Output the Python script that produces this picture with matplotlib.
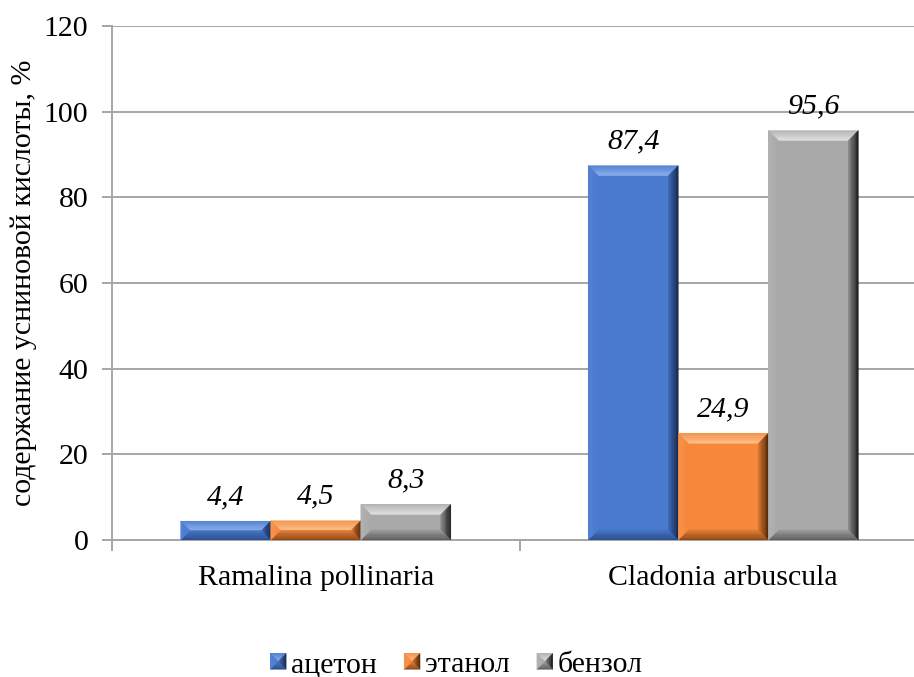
import matplotlib
matplotlib.use("Agg")
import matplotlib.pyplot as plt
from matplotlib.patches import Polygon, Patch
from matplotlib.transforms import IdentityTransform
from matplotlib.legend_handler import HandlerBase
from matplotlib.colors import to_rgb
import numpy as np

categories = ["Ramalina pollinaria", "Cladonia arbuscula"]
series_names = ["ацетон", "этанол", "бензол"]
acetone = [4.4, 87.4]
ethanol = [4.5, 24.9]
benzene = [8.3, 95.6]
labels_acetone = ["4,4", "87,4"]
labels_ethanol = ["4,5", "24,9"]
labels_benzene = ["8,3", "95,6"]
yticks = [0, 20, 40, 60, 80, 100, 120]

colors = ["#4a7acf", "#f5883a", "#a9a9a9"]
# (outer, inner) colours for each bevel face
top_c = [("#5684d2", "#8cb2ee"), ("#f6964f", "#fcc08c"), ("#b5b5b5", "#e2e2e2")]
right_c = [("#152648", "#3f6ab6"), ("#4a2408", "#d8752e"), ("#151515", "#8a8a8a")]
bottom_c = [("#2b4c8c", "#4574c4"), ("#8a4514", "#e07e36"), ("#5a5a5a", "#9a9a9a")]
left_c = [("#5583d3", "#4a7acf"), ("#f79550", "#f5883a"), ("#b4b4b4", "#a9a9a9")]

plt.rcParams['font.family'] = ['Liberation Serif', 'DejaVu Serif']
FS = 21.5

fig = plt.figure(figsize=(9.14, 6.77), dpi=100)
W, H = 914, 677
L, R, T, B = 112, 927, 26, 540
ax = fig.add_axes([L / W, 1 - B / H, (R - L) / W, (B - T) / H])
ax.set_xlim(0, 2)
ax.set_ylim(0, 120)

x = np.arange(len(categories)) + 0.5
bw = 0.221
series = [acetone, ethanol, benzene]
lbls = [labels_acetone, labels_ethanol, labels_benzene]

ax.set_yticks(yticks)
ax.set_yticklabels([str(t) for t in yticks], fontsize=FS)
ax.grid(axis='y', color='#a6a6a6', linewidth=1.4, zorder=0)
ax.set_axisbelow(True)
for s in ['top', 'right']:
    ax.spines[s].set_visible(False)
for s in ['left', 'bottom']:
    ax.spines[s].set_color('#a6a6a6')
    ax.spines[s].set_linewidth(1.4)
ax.tick_params(axis='y', length=7, width=1.4, color='#a6a6a6', pad=10)
ax.set_xticks([0, 1, 2])
ax.set_xticklabels([])
ax.tick_params(axis='x', length=8, width=1.4, color='#a6a6a6')
ax.set_xticks(x, minor=True)
ax.set_xticklabels(categories, minor=True, fontsize=FS)
ax.tick_params(axis='x', which='minor', length=0, pad=18)

ax.set_ylabel("содержание усниновой кислоты, %", fontsize=FS)
ax.yaxis.set_label_coords((37 - L) / (R - L), 0.5)


def mix(c0, c1, t):
    a = np.array(to_rgb(c0)); b = np.array(to_rgb(c1))
    return tuple(a + (b - a) * t)


def bevel_polys(px0, py0, px1, py1, b, k, n=8):
    """Return list of (points, colour) making a gradient bevel, display coords
    with y increasing upward."""
    out = []
    for s in range(n):
        d0 = b * s / n
        d1 = b * (s + 1) / n
        t = (s + 0.5) / n
        out.append(([(px0 + d0, py1 - d0), (px1 - d0, py1 - d0),
                     (px1 - d1, py1 - d1), (px0 + d1, py1 - d1)],
                    mix(*top_c[k], t)))
        out.append(([(px1 - d0, py1 - d0), (px1 - d0, py0 + d0),
                     (px1 - d1, py0 + d1), (px1 - d1, py1 - d1)],
                    mix(*right_c[k], t)))
        out.append(([(px0 + d0, py0 + d0), (px1 - d0, py0 + d0),
                     (px1 - d1, py0 + d1), (px0 + d1, py0 + d1)],
                    mix(*bottom_c[k], t)))
        out.append(([(px0 + d0, py0 + d0), (px0 + d0, py1 - d0),
                     (px0 + d1, py1 - d1), (px0 + d1, py0 + d1)],
                    mix(*left_c[k], t)))
    return out


bars_all = []
for i, (vals, c) in enumerate(zip(series, colors)):
    bars = ax.bar(x + (i - 1) * bw, vals, width=bw, color=c, zorder=2,
                  linewidth=0)
    bars_all.append(bars)

fig.canvas.draw()
for i, bars in enumerate(bars_all):
    for j, rect in enumerate(bars):
        x0, y0 = rect.get_x(), rect.get_y()
        w, h = rect.get_width(), rect.get_height()
        (px0, py0) = ax.transData.transform((x0, y0))
        (px1, py1) = ax.transData.transform((x0 + w, y0 + h))
        b = min(10, (py1 - py0) / 2.0)
        for pts, fc in bevel_polys(px0, py0, px1, py1, b, i):
            ax.add_patch(Polygon(pts, closed=True, transform=IdentityTransform(),
                                 facecolor=fc, edgecolor=fc, linewidth=0.3,
                                 zorder=3))
        ax.text(x0 + w / 2, y0 + h + 2.6, lbls[i][j], ha='center', va='bottom',
                fontsize=FS, fontstyle='italic', zorder=4)


class BevelHandler(HandlerBase):
    def create_artists(self, legend, orig_handle, xdescent, ydescent, width,
                       height, fontsize, trans):
        k = int(orig_handle.get_gid())
        s = min(width, height)
        x0 = -xdescent + (width - s) / 2
        y0 = -ydescent + (height - s) / 2
        arts = []
        base = Polygon([(x0, y0), (x0 + s, y0), (x0 + s, y0 + s), (x0, y0 + s)],
                       closed=True, facecolor=colors[k], edgecolor='none',
                       transform=trans)
        arts.append(base)
        for pts, fc in bevel_polys(x0, y0, x0 + s, y0 + s, s * 0.5, k, n=4):
            arts.append(Polygon(pts, closed=True, facecolor=fc, edgecolor=fc,
                                linewidth=0.2, transform=trans))
        return arts


handles = []
for i in range(3):
    p = Patch(facecolor=colors[i])
    p.set_gid(str(i))
    handles.append(p)
em = FS * 100 / 72.0
fig.legend(handles, series_names, loc='center', bbox_to_anchor=(456.5 / W, 1 - 665 / H),
           ncol=3, frameon=False, fontsize=FS, handlelength=16 / em,
           handleheight=16 / em, handletextpad=5 / em, columnspacing=27 / em,
           borderpad=0, borderaxespad=0,
           handler_map={Patch: BevelHandler()})

fig.savefig("out.png", dpi=100)
